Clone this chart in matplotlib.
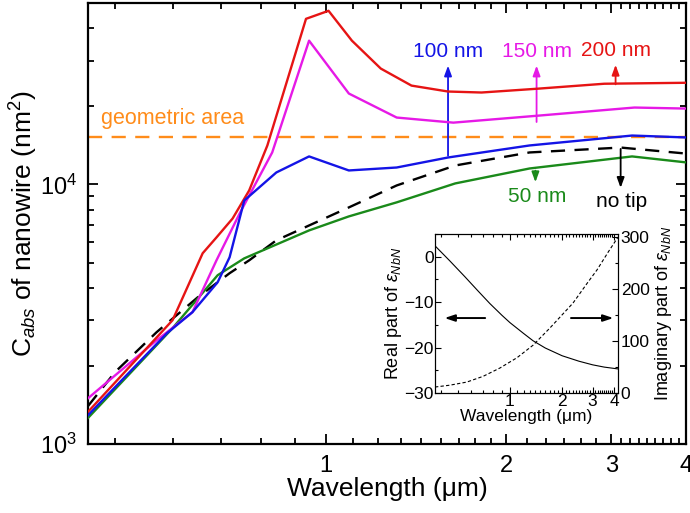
import numpy as np
import matplotlib
matplotlib.use("Agg")
import matplotlib.pyplot as plt
from matplotlib.ticker import FixedLocator, NullFormatter, LogLocator, FixedFormatter, AutoMinorLocator

plt.rcParams['font.family'] = ['Liberation Sans', 'DejaVu Sans']
plt.rcParams['mathtext.fontset'] = 'custom'
plt.rcParams['mathtext.rm'] = 'Liberation Sans'
plt.rcParams['mathtext.it'] = 'Liberation Sans:italic'
plt.rcParams['mathtext.bf'] = 'Liberation Sans:bold'

# ---- main data (wavelength in um, C_abs in nm^2) ----
x_200 = [0.40, 0.554, 0.622, 0.656, 0.698, 0.744, 0.798, 0.926, 1.01, 1.105, 1.235, 1.39, 1.60, 1.82, 2.26, 2.92, 4.0]
y_200 = [1330, 3000, 5430, 6250, 7390, 9480, 14130, 43450, 46660, 35800, 27950, 24030, 22800, 22600, 23380, 24430, 24640]

x_150 = [0.40, 0.52, 0.598, 0.656, 0.717, 0.813, 0.937, 1.092, 1.313, 1.633, 2.26, 3.28, 4.0]
y_150 = [1500, 2500, 3220, 5100, 7720, 13280, 35800, 22400, 18100, 17300, 18400, 19780, 19600]

x_100 = [0.40, 0.542, 0.598, 0.659, 0.690, 0.730, 0.826, 0.937, 1.092, 1.313, 1.60, 2.19, 3.25, 4.0]
y_100 = [1290, 2670, 3220, 4200, 5240, 8670, 11120, 12820, 11320, 11620, 12700, 14130, 15430, 15170]

x_50 = [0.40, 0.554, 0.659, 0.730, 0.937, 1.092, 1.313, 1.645, 2.19, 3.25, 4.0]
y_50 = [1260, 2795, 4470, 5190, 6650, 7530, 8530, 10090, 11520, 12820, 12160]

x_notip = [0.40, 0.444, 0.521, 0.61, 0.690, 0.744, 0.826, 1.092, 1.313, 1.645, 2.19, 3.11, 4.0]
y_notip = [1400, 1893, 2697, 3670, 4550, 5100, 6090, 8155, 9910, 11830, 13280, 13870, 13150]

geometric_area = 15200

# arrows: (x, y_start, y_end, label)
arrow_x = [1.60, 2.25, 3.05, 2.24, 3.11]
arrow_y0 = [12900, 17400, 24300, 11300, 13700]
arrow_y1 = [28700, 28700, 28900, 10200, 9700]
arrow_labels = ['100 nm', '150 nm', '200 nm', '50 nm', 'no tip']
arrow_colors = ['#1414E6', '#E619E6', '#E61414', '#1A8A1A', 'black']

# ---- inset data ----
ins_x_re = [0.37, 0.45, 0.55, 0.65, 0.766, 0.9, 1.0, 1.2, 1.36, 1.6, 2.0, 2.5, 3.0, 3.5, 4.2]
ins_y_re = [2.4, -0.9, -4.4, -7.4, -10.3, -12.9, -14.5, -16.9, -18.5, -20.1, -21.8, -23.0, -23.8, -24.3, -24.7]
ins_x_im = [0.37, 0.45, 0.564, 0.7, 0.875, 1.1, 1.36, 1.7, 2.31, 2.8, 3.18, 3.7, 4.2]
ins_y_im = [11.5, 15, 21, 32, 48, 68, 92, 125, 173, 212, 237, 272, 300]

fig = plt.figure(figsize=(6.9, 5.13), dpi=100)
ax = fig.add_axes([88/690, 1-444/513, (686-88)/690, (444-3)/513])

ax.plot(x_200, y_200, color='#E61414', lw=1.7, zorder=5)
ax.plot(x_150, y_150, color='#E619E6', lw=1.7, zorder=4)
ax.plot(x_100, y_100, color='#1414E6', lw=1.7, zorder=6)
ax.plot(x_50, y_50, color='#1A8A1A', lw=1.7, zorder=3)
ax.plot(x_notip, y_notip, color='black', lw=1.7, ls=(0, (6, 4)), zorder=2)
ax.axhline(geometric_area, color='#FF8C1A', lw=1.7, ls=(0, (6, 4)), zorder=1)
ax.text(0.42, 16300, 'geometric area', color='#FF8C1A', fontsize=15.5, va='bottom', ha='left')

ax.set_xscale('log')
ax.set_yscale('log')
ax.set_xlim(0.4, 4.0)
ax.set_ylim(1000, 50000)

for xa, y0, y1, lab, c in zip(arrow_x, arrow_y0, arrow_y1, arrow_labels, arrow_colors):
    ax.annotate('', xy=(xa, y1), xytext=(xa, y0),
                arrowprops=dict(arrowstyle='-|>,head_length=0.6,head_width=0.22', color=c, lw=1.3, shrinkA=0, shrinkB=0))
    if y1 > y0:
        ax.text(xa, y1 * 1.04, lab, color=c, fontsize=15, ha='center', va='bottom')
    else:
        ax.text(xa * 1.005, y1 * 0.96, lab, color=c, fontsize=15, ha='center', va='top')

major_x = [1, 2, 3, 4]
ax.xaxis.set_major_locator(FixedLocator(major_x))
ax.xaxis.set_major_formatter(FixedFormatter(['1', '2', '3', '4']))
minor_x = [4/9, 5/9, 6/9, 7/9, 8/9] + [1 + k/9 for k in range(1, 9)] + [2 + k/6 for k in range(1, 6)] + [3 + k/9 for k in range(1, 9)]
ax.xaxis.set_minor_locator(FixedLocator(minor_x))
ax.xaxis.set_minor_formatter(NullFormatter())
ax.yaxis.set_major_locator(LogLocator(base=10, numticks=10))
ax.yaxis.set_minor_locator(LogLocator(base=10, subs=np.arange(2, 10), numticks=20))
ax.yaxis.set_minor_formatter(NullFormatter())

ax.tick_params(which='both', direction='in', top=True, right=True, width=1.3)
ax.tick_params(which='major', length=7, labelsize=17, pad=8)
ax.tick_params(which='minor', length=4)
for s in ax.spines.values():
    s.set_linewidth(1.6)

ax.set_xlabel('Wavelength (\u03bcm)', fontsize=19, labelpad=0)
ax.set_ylabel(r'C$_{\mathit{abs}}$ of nanowire (nm$^2$)', fontsize=19, labelpad=0)

# ---- inset ----
axi = fig.add_axes([435/690, 1-393/513, (618-435)/690, (393-234)/513])
axi.plot(ins_x_re, ins_y_re, color='black', lw=0.8)
axi.set_xscale('log')
axi.set_xlim(0.37, 4.2)
axi.set_ylim(-30, 5)
axr = axi.twinx()
axr.plot(ins_x_im, ins_y_im, color='black', lw=0.8, ls=(0, (3, 2)))
axr.set_ylim(0, 306)

axi.xaxis.set_major_locator(FixedLocator([1, 2, 3, 4]))
axi.xaxis.set_major_formatter(FixedFormatter(['1', '2', '3', '4']))
axi.xaxis.set_minor_locator(FixedLocator([0.4, 0.5, 0.6, 0.7, 0.8, 0.9] + [1 + k/10 for k in range(1, 10)] + [2 + k/10 for k in range(1, 10)] + [3 + k/10 for k in range(1, 10)]))
axi.xaxis.set_minor_formatter(NullFormatter())
axi.set_yticks([-30, -20, -10, 0])
axi.yaxis.set_minor_locator(AutoMinorLocator(2))
axr.set_yticks([0, 100, 200, 300])
axr.yaxis.set_minor_locator(AutoMinorLocator(2))
axi.tick_params(which='both', direction='in', top=True, labelsize=12.5, width=0.8, pad=1)
axi.tick_params(which='major', length=4)
axi.tick_params(which='minor', length=2)
axr.tick_params(which='both', direction='in', labelsize=12.5, width=0.8, pad=2)
axr.tick_params(which='major', length=4)
axr.tick_params(which='minor', length=2)
for s in list(axi.spines.values()) + list(axr.spines.values()):
    s.set_linewidth(0.8)

axi.set_xlabel('Wavelength (\u03bcm)', fontsize=12.5, labelpad=0)
axi.set_ylabel(r'Real part of $\varepsilon_{NbN}$', fontsize=13, labelpad=0)
axr.set_ylabel(r'Imaginary part of $\varepsilon_{NbN}$', fontsize=13, labelpad=2)

axi.annotate('', xy=(0.42, -13.5), xytext=(0.72, -13.5),
             arrowprops=dict(arrowstyle='-|>,head_length=0.6,head_width=0.2', color='black', lw=1.4, shrinkA=0, shrinkB=0))
axi.annotate('', xy=(3.95, -13.5), xytext=(2.25, -13.5),
             arrowprops=dict(arrowstyle='-|>,head_length=0.6,head_width=0.2', color='black', lw=1.4, shrinkA=0, shrinkB=0))

fig.savefig('out.png', dpi=100)
